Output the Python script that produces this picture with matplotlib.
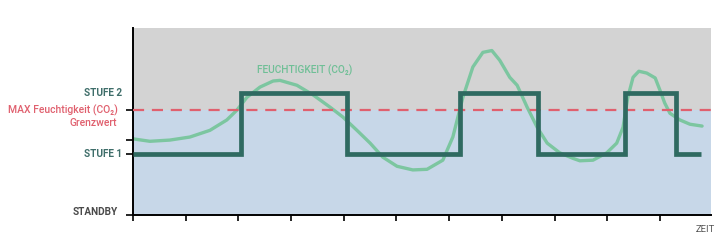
import matplotlib.pyplot as plt

# ============================================
# Daten (x in Zeit-Einheiten, y in Stufen)
# ============================================

level_labels = ["STANDBY", "STUFE 1", "STUFE 2"]
level_values = [0, 1, 2]
limit_value = 1.72
start_value = 1.23

# Lüfterstufe (Treppenkurve)
step_x = [0.0, 2.05, 2.05, 4.06, 4.06, 6.20, 6.20, 7.69, 7.69, 9.34, 9.34, 10.30, 10.30, 10.78]
step_y = [1, 1, 2, 2, 1, 1, 2, 2, 1, 1, 2, 2, 1, 1]

# Feuchtigkeit (CO2)
hum_x = [0.00, 0.32, 0.70, 1.08, 1.46, 1.78, 1.97, 2.16, 2.41, 2.66, 2.79, 3.11, 3.42,
         3.74, 3.98, 4.25, 4.50, 4.74, 5.01, 5.31, 5.58, 5.88, 6.07, 6.26, 6.45, 6.64,
         6.81, 6.96, 7.15, 7.29, 7.48, 7.67, 7.86, 8.10, 8.35, 8.48, 8.73, 8.99, 9.18,
         9.30, 9.39, 9.49, 9.60, 9.75, 9.91, 10.00, 10.09, 10.19, 10.38, 10.57, 10.80]
hum_y = [1.25, 1.21, 1.23, 1.28, 1.39, 1.56, 1.72, 1.93, 2.10, 2.20, 2.21, 2.13, 1.97,
         1.77, 1.61, 1.39, 1.18, 0.95, 0.80, 0.74, 0.75, 0.90, 1.28, 1.93, 2.43, 2.67,
         2.70, 2.54, 2.26, 2.13, 1.77, 1.44, 1.18, 1.02, 0.93, 0.89, 0.90, 1.02, 1.18,
         1.44, 1.93, 2.26, 2.36, 2.33, 2.25, 2.05, 1.84, 1.67, 1.56, 1.49, 1.46]

time_ticks = list(range(11))

# ============================================
# Farben
# ============================================

c_gray = "#d3d3d3"
c_blue = "#c7d7e8"
c_step = "#2f6a61"
c_green = "#7cc6a0"
c_red = "#e0606e"
c_label = "#3f6e6a"

fonts = ["Roboto", "DejaVu Sans"]

# ============================================
# Grafik
# ============================================

fig = plt.figure(figsize=(7.28, 2.42), dpi=100)
ax = fig.add_axes([0.1827, 0.1116, 0.794, 0.7727])

x_max = 10.97
y_max = 3.07
ax.set_xlim(0, x_max)
ax.set_ylim(0, y_max)

ax.axhspan(limit_value, y_max, color=c_gray, zorder=0, lw=0)
ax.axhspan(0, limit_value, color=c_blue, zorder=0, lw=0)

ax.plot(hum_x, hum_y, color=c_green, lw=2.4, solid_joinstyle="round",
        solid_capstyle="round", zorder=2)
ax.axhline(limit_value, color=c_red, lw=1.6, dashes=(5, 3.5), zorder=3)
ax.plot(step_x, step_y, color=c_step, lw=3.4, solid_joinstyle="miter",
        solid_capstyle="butt", zorder=4)

ax.text(3.26, 2.37, "FEUCHTIGKEIT (CO₂)", color="#6fbf96", fontsize=7.3,
        fontweight="medium", family=fonts, ha="center", va="center")

# Achsen
for side in ["top", "right"]:
    ax.spines[side].set_visible(False)
ax.spines["left"].set_linewidth(1.4)
ax.spines["bottom"].set_linewidth(1.4)

ax.set_xticks(time_ticks)
ax.set_xticklabels([])
ax.tick_params(axis="x", length=4, width=1.2, direction="out")

ax.set_yticks([level_values[0], level_values[1], start_value, limit_value])
ax.set_yticklabels([])
ax.tick_params(axis="y", length=5, width=1.2, direction="out")

# Beschriftungen links
trans = ax.get_yaxis_transform()
ax.text(-0.018, level_values[2], level_labels[2], transform=trans, ha="right", va="center",
        fontsize=7.2, fontweight="bold", color=c_label, family=fonts)
ax.text(-0.018, level_values[1], level_labels[1], transform=trans, ha="right", va="center",
        fontsize=7.2, fontweight="bold", color=c_label, family=fonts)
ax.text(-0.027, level_values[0] + 0.05, level_labels[0], transform=trans, ha="right",
        va="center", fontsize=7.2, fontweight="bold", color="#4a4a4a", family=fonts)
ax.text(-0.027, limit_value, "MAX Feuchtigkeit (CO₂)", transform=trans, ha="right",
        va="center", fontsize=7.5, fontweight="medium", color=c_red, family=fonts)
ax.text(-0.027, limit_value - 0.21, "Grenzwert", transform=trans, ha="right",
        va="center", fontsize=7.5, fontweight="medium", color=c_red, family=fonts)

ax.text(0.99, -0.075, "ZEIT", transform=ax.transAxes, ha="center", va="center",
        fontsize=6.8, color="#555555", family=fonts)

plt.savefig("out.png", dpi=100)
